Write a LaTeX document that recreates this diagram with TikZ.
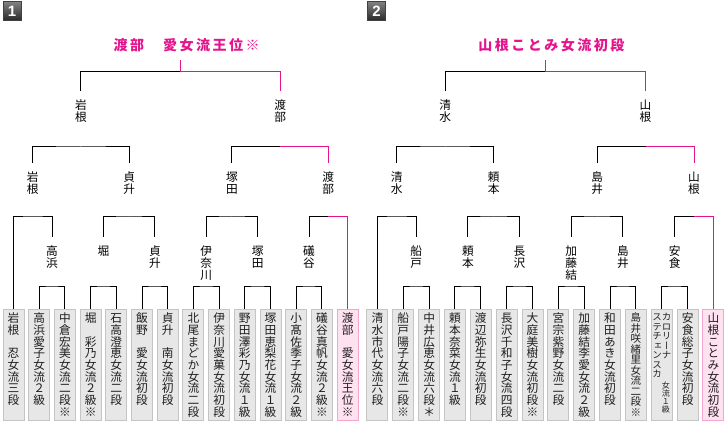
\documentclass[tikz,border=0pt]{standalone}
\usepackage{fontspec}
\usetikzlibrary{calc}
\newfontfamily\tatefont[RawFeature=+vert]{Noto Sans CJK JP}
\newfontfamily\headfont{Noto Sans CJK JP}
\newfontfamily\numfont{Liberation Sans}

\definecolor{winpink}{RGB}{228,20,140}
\definecolor{boxgray}{RGB}{231,231,231}
\definecolor{boxedge}{RGB}{196,196,196}
\definecolor{winfill}{RGB}{255,226,240}
\definecolor{winedge}{RGB}{244,166,208}
\definecolor{inkgray}{RGB}{30,30,30}

% 縦書き: 一文字ずつ積む
\ExplSyntaxOn
\tl_new:N \l_tate_tl
\NewDocumentCommand \tate { O{11.7} m }
  {
    \vbox
      {
        \offinterlineskip
        \tatefont \fontsize{#1}{#1} \selectfont
        \tl_set:Nx \l_tate_tl {#2}
        \tl_map_inline:Nn \l_tate_tl
          {
            \hbox_to_wd:nn {1em}
              { \hss \vrule~height~.88em~depth~.12em~width~0pt \relax ##1 \hss }
          }
      }
  }
\NewDocumentCommand \spaced { m m }
  {
    \hbox:n { \tl_map_inline:nn {#2} { \hbox_to_wd:nn {#1} { \hss ##1 \hss } } }
  }
\ExplSyntaxOff
\newcommand\boxtext[2][11.7]{\vbox to 105pt{\tate[#1]{#2}\vss}}

\begin{document}
\begin{tikzpicture}[x=1pt, y=-1pt, line width=1pt,
  plate/.style={anchor=north, minimum width=21pt, inner xsep=0pt, inner ysep=3pt, fill=boxgray, draw=boxedge, text=inkgray},
  winplate/.style={plate, fill=winfill, draw=winedge},
  pick/.style={anchor=north, inner xsep=0pt, inner ysep=8pt},
  win/.style={draw=winpink},
  headline/.style={inner sep=0pt, text=winpink, font=\headfont\bfseries\fontsize{14}{14}\selectfont},
  badge/.style={minimum width=18pt, minimum height=19pt, inner sep=0pt, top color=black!50, bottom color=black!85, draw=black!75, text=white, font=\numfont\bfseries\fontsize{15}{15}\selectfont}]
  \useasboundingbox (0,0) rectangle (724,422);

  % 段の高さ
  \coordinate (yt) at (0,45);
  \coordinate (y4) at (0,72);
  \coordinate (y3w) at (0,91);
  \coordinate (y3) at (0,147);
  \coordinate (y2w) at (0,163);
  \coordinate (y2) at (0,217);
  \coordinate (y1w) at (0,237);
  \coordinate (y1) at (0,287);

  % ===== ブロック1 =====
  \node[badge] (Anum) at (12,11.5) {1};
  \foreach \i/\who in {1/岩根　忍女流三段, 2/高浜愛子女流２級, 3/中倉宏美女流二段※,
      4/堀　彩乃女流２級※, 5/石高澄恵女流二段, 6/飯野　愛女流初段, 7/貞升　南女流初段,
      8/北尾まどか女流二段, 9/伊奈川愛菓女流初段, 10/野田澤彩乃女流１級,
      11/塚田恵梨花女流１級, 12/小髙佐季子女流２級, 13/礒谷真帆女流２級※}
    \node[plate] (A\i) at ({13.5+25.7*(\i-1)},309) {\boxtext{\who}};
  \node[winplate] (A14) at ({13.5+25.7*13},309) {\boxtext{渡部　愛女流王位※}};

  % 1回戦
  \foreach \p/\q/\who in {2/3/高浜, 4/5/堀, 6/7/貞升, 8/9/伊奈川, 10/11/塚田, 12/13/礒谷} {
    \coordinate (Am\p) at ($(A\p.north)!.5!(A\q.north)$);
    \draw (A\p.north) |- (Am\p |- y1) -| (A\q.north);
    \node[pick] (Aw\p) at (Am\p |- y1w) {\tate{\who}};
  }

  % 2回戦
  \coordinate (As1) at ($(A1.north |- y2)!.5!(Aw2.north |- y2)$);
  \draw (A1.north) |- (As1) -| (Aw2.north);
  \coordinate (As2) at ($(Aw4.north |- y2)!.5!(Aw6.north |- y2)$);
  \draw (Aw4.north) |- (As2) -| (Aw6.north);
  \coordinate (As3) at ($(Aw8.north |- y2)!.5!(Aw10.north |- y2)$);
  \draw (Aw8.north) |- (As3) -| (Aw10.north);
  \coordinate (As4) at ($(Aw12.north |- y2)!.5!(A14.north |- y2)$);
  \draw (Aw12.north) |- (As4);
  \draw[win] (As4) -| (A14.north);
  \node[pick] (Av1) at (As1 |- y2w) {\tate{岩根}};
  \node[pick] (Av2) at (As2 |- y2w) {\tate{貞升}};
  \node[pick] (Av3) at (As3 |- y2w) {\tate{塚田}};
  \node[pick] (Av4) at (As4 |- y2w) {\tate{渡部}};

  % 準決勝
  \coordinate (At1) at ($(Av1.north |- y3)!.5!(Av2.north |- y3)$);
  \draw (Av1.north) |- (At1) -| (Av2.north);
  \coordinate (At2) at ($(Av3.north |- y3)!.5!(Av4.north |- y3)$);
  \draw (Av3.north) |- (At2);
  \draw[win] (At2) -| (Av4.north);
  \node[pick] (Au1) at (At1 |- y3w) {\tate{岩根}};
  \node[pick] (Au2) at (At2 |- y3w) {\tate{渡部}};

  % 決勝
  \coordinate (Af) at ($(Au1.north |- y4)!.5!(Au2.north |- y4)$);
  \draw (Au1.north) |- (Af);
  \draw[win] (Af) -| (Au2.north);
  \node[headline, xshift=6pt] (Ahead) at (Af |- yt) {\spaced{16.5pt}{渡部　愛女流王位※}};
  \draw[win, shorten >=8pt] (Af) -- (Af |- Ahead.south);

  % ===== ブロック2 =====
  \node[badge] (Bnum) at (376.5,11.5) {2};
  \foreach \i/\who in {1/清水市代女流六段, 2/船戸陽子女流二段※, 3/中井広恵女流六段＊,
      4/頼本奈菜女流１級, 5/渡辺弥生女流初段, 6/長沢千和子女流四段, 7/大庭美樹女流初段※,
      8/宮宗紫野女流二段, 9/加藤結李愛女流２級, 10/和田あき女流初段, 13/安食総子女流初段}
    \node[plate] (B\i) at ({377.4+25.85*(\i-1)},309) {\boxtext{\who}};
  \node[plate] (B11) at ({377.4+25.85*10},309) {\boxtext[10.5]{島井咲緒里女流二段※}};
  \node[plate] (B12) at ({377.4+25.85*11},309)
    {\hbox{\vbox to 105pt{\tate[9.5]{ステチェンスカ}\vss}\vbox to 105pt{\tate[9.5]{カロリーナ}\vskip 20pt\tate[8]{女流１級}\vss}}};
  \node[winplate] (B14) at ({377.4+25.85*13},309) {\boxtext{山根ことみ女流初段}};

  % 1回戦
  \foreach \p/\q/\who in {2/3/船戸, 4/5/頼本, 6/7/長沢, 8/9/加藤結, 10/11/島井, 12/13/安食} {
    \coordinate (Bm\p) at ($(B\p.north)!.5!(B\q.north)$);
    \draw (B\p.north) |- (Bm\p |- y1) -| (B\q.north);
    \node[pick] (Bw\p) at (Bm\p |- y1w) {\tate{\who}};
  }

  % 2回戦
  \coordinate (Bs1) at ($(B1.north |- y2)!.5!(Bw2.north |- y2)$);
  \draw (B1.north) |- (Bs1) -| (Bw2.north);
  \coordinate (Bs2) at ($(Bw4.north |- y2)!.5!(Bw6.north |- y2)$);
  \draw (Bw4.north) |- (Bs2) -| (Bw6.north);
  \coordinate (Bs3) at ($(Bw8.north |- y2)!.5!(Bw10.north |- y2)$);
  \draw (Bw8.north) |- (Bs3) -| (Bw10.north);
  \coordinate (Bs4) at ($(Bw12.north |- y2)!.5!(B14.north |- y2)$);
  \draw (Bw12.north) |- (Bs4);
  \draw[win] (Bs4) -| (B14.north);
  \node[pick] (Bv1) at (Bs1 |- y2w) {\tate{清水}};
  \node[pick] (Bv2) at (Bs2 |- y2w) {\tate{頼本}};
  \node[pick] (Bv3) at (Bs3 |- y2w) {\tate{島井}};
  \node[pick] (Bv4) at (Bs4 |- y2w) {\tate{山根}};

  % 準決勝
  \coordinate (Bt1) at ($(Bv1.north |- y3)!.5!(Bv2.north |- y3)$);
  \draw (Bv1.north) |- (Bt1) -| (Bv2.north);
  \coordinate (Bt2) at ($(Bv3.north |- y3)!.5!(Bv4.north |- y3)$);
  \draw (Bv3.north) |- (Bt2);
  \draw[win] (Bt2) -| (Bv4.north);
  \node[pick] (Bu1) at (Bt1 |- y3w) {\tate{清水}};
  \node[pick] (Bu2) at (Bt2 |- y3w) {\tate{山根}};

  % 決勝
  \coordinate (Bf) at ($(Bu1.north |- y4)!.5!(Bu2.north |- y4)$);
  \draw (Bu1.north) |- (Bf);
  \draw[win] (Bf) -| (Bu2.north);
  \node[headline, xshift=6pt] (Bhead) at (Bf |- yt) {\spaced{16.5pt}{山根ことみ女流初段}};
  \draw[win, shorten >=8pt] (Bf) -- (Bf |- Bhead.south);
\end{tikzpicture}
\end{document}
